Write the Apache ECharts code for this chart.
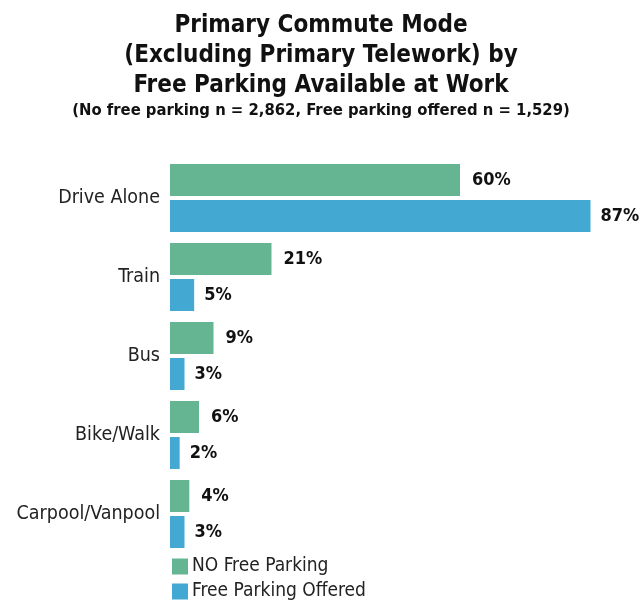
<!DOCTYPE html>
<html><head><meta charset="utf-8">
<script src="https://cdn.jsdelivr.net/npm/echarts@6/dist/echarts.min.js"></script>
<style>html,body{margin:0;padding:0;background:#fff}#c{width:642px;height:601px}</style>
</head><body><div id="c"></div>
<script>
const categories = ['Drive Alone', 'Train', 'Bus', 'Bike/Walk', 'Carpool/Vanpool'];
const noFreeParking = [60, 21, 9, 6, 4];
const freeParkingOffered = [87, 5, 3, 2, 3];
const seriesNames = ['NO Free Parking', 'Free Parking Offered'];

const chart = echarts.init(document.getElementById('c'));
const narrow = '"DejaVu Sans Condensed", "Liberation Sans Narrow", sans-serif';
const legendBase = {
  orient: 'vertical', left: 172, padding: 0, itemWidth: 16, itemHeight: 16,
  icon: 'rect',
  textStyle: { fontFamily: narrow, fontSize: 19, color: '#222', padding: [0, 0, 0, -1] }
};
chart.setOption({
  animation: false,
  title: [{
    text: 'Primary Commute Mode\n(Excluding Primary Telework) by\nFree Parking Available at Work',
    left: 'center', top: 6,
    textStyle: { fontFamily: narrow, fontWeight: 'bold', fontSize: 24, lineHeight: 30, color: '#111' }
  }, {
    text: '(No free parking n = 2,862, Free parking offered n = 1,529)',
    left: 'center', top: 97,
    textStyle: { fontFamily: narrow, fontWeight: 'bold', fontSize: 16.5, color: '#111' }
  }],
  legend: [
    Object.assign({}, legendBase, { top: 557, data: [seriesNames[0]] }),
    Object.assign({}, legendBase, { top: 582, data: [seriesNames[1]] })
  ],
  grid: { left: 170, top: 158.5, width: 435, height: 395, containLabel: false },
  xAxis: { type: 'value', min: 0, max: 90, show: false },
  yAxis: {
    type: 'category', data: categories, inverse: true,
    axisLine: { show: false }, axisTick: { show: false },
    axisLabel: { fontFamily: narrow, fontSize: 19.5, color: '#222', margin: 10 }
  },
  series: [{
    name: seriesNames[0], type: 'bar', data: noFreeParking,
    itemStyle: { color: '#66b592' }, barWidth: 32, barGap: '12.5%',
    label: { show: true, position: 'right', distance: 12, formatter: '{c}%',
      fontFamily: narrow, fontWeight: 'bold', fontSize: 18, color: '#111' }
  }, {
    name: seriesNames[1], type: 'bar', data: freeParkingOffered,
    itemStyle: { color: '#43a9d3' }, barWidth: 32,
    label: { show: true, position: 'right', distance: 10, formatter: '{c}%',
      fontFamily: narrow, fontWeight: 'bold', fontSize: 18, color: '#111' }
  }]
});
</script></body></html>
